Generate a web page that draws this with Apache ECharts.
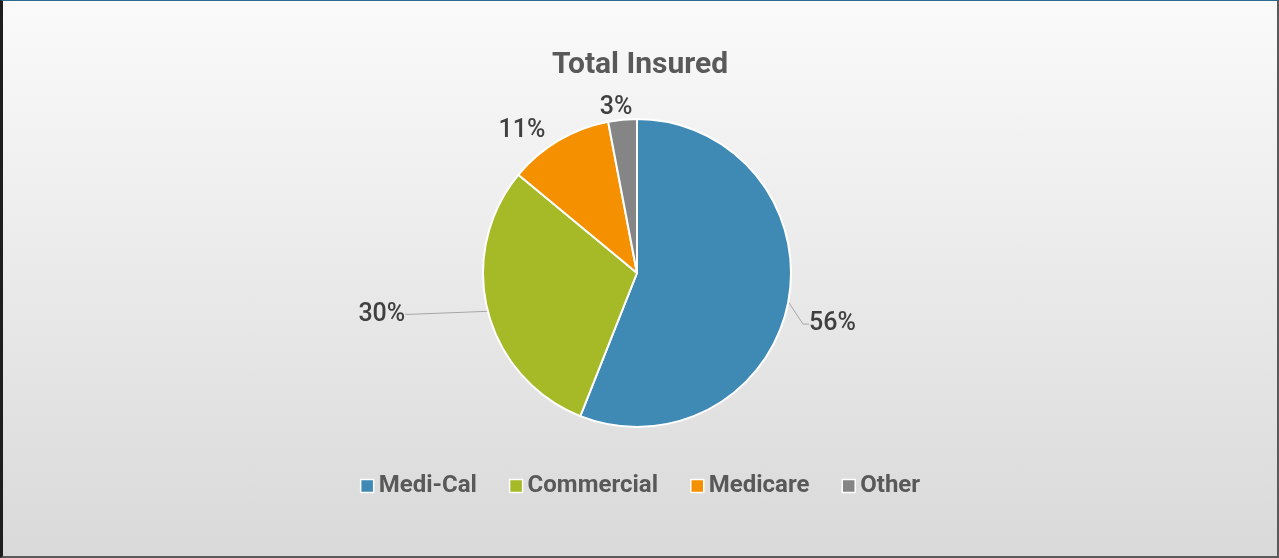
<!DOCTYPE html>
<html><head><meta charset="utf-8">
<script src="https://cdn.jsdelivr.net/npm/echarts@6/dist/echarts.min.js"></script>
<style>
html,body{margin:0;padding:0;width:1279px;height:558px;overflow:hidden;}
#wrap{position:absolute;left:0;top:0;width:1279px;height:558px;box-sizing:border-box;
border-left:3px solid #1e1e1e;border-top:1px solid #2f6b8c;border-right:2px solid #5a5a5a;border-bottom:2px solid #5a5a5a;
background:linear-gradient(to bottom,#fafafa 0%,#d9d9d9 100%);}
#chart{width:100%;height:100%;}
</style></head>
<body><div id="wrap"><div id="chart"></div></div>
<script>
const categories = ['Medi-Cal','Commercial','Medicare','Other'];
const values = [56,30,11,3];
const colors = ['#3f89b5','#a6b927','#f59100','#858585'];
const FONT = 'Roboto,"Liberation Sans",sans-serif';
const labelShift = [[-2,20],[-60,0],[7,-4],[22,0]];
const chart = echarts.init(document.getElementById('chart'));
chart.setOption({
  animation:false,
  backgroundColor:'transparent',
  title:{text:'Total Insured',left:'center',top:44,
    textStyle:{fontFamily:FONT,fontSize:30,fontWeight:'bold',color:'#595959'}},
  legend:{bottom:53,left:'center',itemWidth:13,itemHeight:13,itemGap:32,icon:'rect',
    data:categories,
    itemStyle:{borderColor:'#ffffff',borderWidth:1.5},
    textStyle:{fontFamily:FONT,fontSize:24,fontWeight:'bold',color:'#595959'}},
  series:[{type:'pie',center:[634,272],radius:154,startAngle:90,clockwise:true,
    itemStyle:{borderColor:'#ffffff',borderWidth:2},
    label:{show:true,position:'outside',formatter:'{d}%',fontFamily:FONT,fontSize:25,fontWeight:500,color:'#404040'},
    labelLine:{show:true,length:12,length2:6,lineStyle:{color:'#a6a6a6',width:1}},
    labelLayout:function(p){const s=labelShift[p.dataIndex];const r=p.labelRect;
      return {x:r.x+s[0],y:r.y+s[1],align:'left',verticalAlign:'top'};},
    data:categories.map((c,i)=>({name:c,value:values[i],itemStyle:{color:colors[i]},
      labelLine:{show:i<2}}))
  }]
});
</script></body></html>
